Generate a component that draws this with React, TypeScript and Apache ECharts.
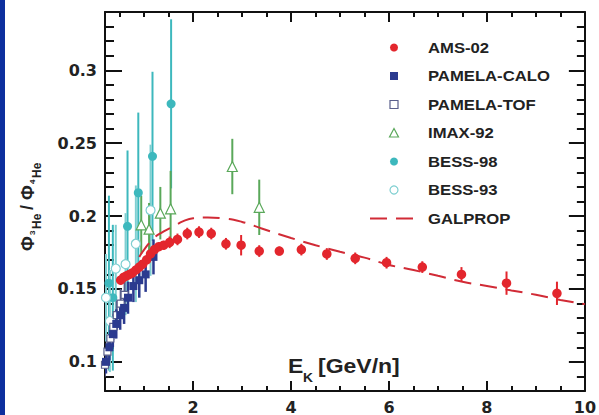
import React, { useEffect, useRef } from "react";
import * as echarts from "echarts";

// [E_K (GeV/n), ratio, error]
const amsData = [
  [0.52, 0.156, 0.003], [0.58, 0.158, 0.003], [0.64, 0.159, 0.003], [0.70, 0.160, 0.003],
  [0.76, 0.161, 0.003], [0.83, 0.163, 0.003], [0.90, 0.165, 0.003], [0.97, 0.167, 0.003],
  [1.05, 0.170, 0.003], [1.13, 0.174, 0.003], [1.21, 0.177, 0.003], [1.30, 0.179, 0.003],
  [1.40, 0.180, 0.003], [1.52, 0.182, 0.004], [1.68, 0.184, 0.004], [1.88, 0.188, 0.004],
  [2.12, 0.189, 0.004], [2.37, 0.188, 0.004], [2.67, 0.181, 0.004], [2.98, 0.180, 0.007],
  [3.35, 0.176, 0.004], [3.76, 0.176, 0.003], [4.21, 0.177, 0.004], [4.73, 0.174, 0.004],
  [5.31, 0.171, 0.004], [5.95, 0.168, 0.004], [6.68, 0.165, 0.004], [7.48, 0.160, 0.005],
  [8.40, 0.154, 0.008], [9.43, 0.147, 0.008],
];
const pamelaCaloData = [
  [0.22, 0.100, 0.008], [0.29, 0.110, 0.009], [0.36, 0.119, 0.009], [0.43, 0.126, 0.010],
  [0.51, 0.132, 0.010], [0.59, 0.137, 0.011], [0.67, 0.144, 0.011], [0.78, 0.152, 0.011],
  [0.90, 0.156, 0.012], [1.03, 0.160, 0.012], [1.19, 0.172, 0.012],
];
const pamelaTofData = [
  [0.20, 0.098, 0.008], [0.25, 0.107, 0.008], [0.31, 0.116, 0.009], [0.37, 0.124, 0.009],
  [0.44, 0.132, 0.010], [0.52, 0.140, 0.010], [0.60, 0.146, 0.011],
];
const imaxData = [
  [0.94, 0.194, 0.020], [1.10, 0.191, 0.018], [1.33, 0.202, 0.018], [1.54, 0.205, 0.026],
  [2.80, 0.234, 0.019], [3.35, 0.206, 0.019],
];
const bess98Data = [
  [0.28, 0.154, 0.060], [0.36, 0.144, 0.050], [0.66, 0.193, 0.052], [0.88, 0.216, 0.055],
  [1.17, 0.241, 0.058], [1.55, 0.277, 0.058],
];
const bess93Data = [
  [0.22, 0.144, 0.030], [0.30, 0.128, 0.035], [0.42, 0.164, 0.030], [0.62, 0.167, 0.035],
  [0.83, 0.181, 0.040], [1.13, 0.204, 0.045],
];
const galpropData = [
  [0.9, 0.172], [1.0, 0.177], [1.2, 0.185], [1.4, 0.1895], [1.6, 0.193], [1.8, 0.1965],
  [2.0, 0.1985], [2.3, 0.199], [2.6, 0.1985], [3.0, 0.196], [3.4, 0.1915], [4.0, 0.185],
  [4.5, 0.180], [5.0, 0.1755], [5.5, 0.1715], [6.0, 0.1665], [6.5, 0.163], [7.0, 0.159],
  [7.5, 0.155], [8.0, 0.152], [8.5, 0.149], [9.0, 0.146], [9.5, 0.1425], [10.0, 0.1395],
];

const xMajor = [2, 4, 6, 8, 10];
const xMinor = [0.5, 1, 1.5, 2.5, 3, 3.5, 4.5, 5, 5.5, 6.5, 7, 7.5, 8.5, 9, 9.5];
const yMajor = [0.1, 0.15, 0.2, 0.25, 0.3];
const yMinor = [0.09, 0.11, 0.12, 0.13, 0.14, 0.16, 0.17, 0.18, 0.19, 0.21, 0.22, 0.23, 0.24,
  0.26, 0.27, 0.28, 0.29, 0.31, 0.32, 0.33];

const legendNames = ["AMS-02", "PAMELA-CALO", "PAMELA-TOF", "IMAX-92", "BESS-98", "BESS-93", "GALPROP"];

const C = {
  ams: "#e3262d",
  calo: "#2b3a8f",
  tof: "#5a5f8c",
  imax: "#5aa85a",
  b98: "#3db8bd",
  b93: "#7fcfd1",
  gal: "#d12b36",
};

const FONT = "DejaVu Sans";
const HFONT = "Liberation Sans";
const X_MIN = 0.2, X_MAX = 10, Y_MIN = 0.08, Y_MAX = 0.34;

function errBars(data: number[][], color: string, width: number, z: number) {
  return {
    type: "custom",
    data,
    z,
    clip: true,
    encode: { x: 0, y: 1 },
    renderItem: (params: any, api: any) => {
      const x = api.value(0), y = api.value(1), e = api.value(2);
      const a = api.coord([x, y + e]);
      const b = api.coord([x, y - e]);
      return {
        type: "line",
        shape: { x1: a[0], y1: a[1], x2: b[0], y2: b[1] },
        style: { stroke: color, lineWidth: width },
      };
    },
  };
}

function points(data: number[][], symbol: string, size: number, fill: string, border: string, bw: number, z: number) {
  return {
    type: "scatter",
    data: data.map((d) => [d[0], d[1]]),
    symbol,
    symbolSize: size,
    z,
    itemStyle: { color: fill, borderColor: border, borderWidth: bw, opacity: 1 },
  };
}

function xAxisDef(pos: string, vals: number[], len: number, line: boolean, label: boolean) {
  return {
    type: "value", position: pos, min: X_MIN, max: X_MAX,
    axisLine: { show: line, onZero: false, lineStyle: { color: "#111", width: 2 } },
    axisTick: { show: true, inside: true, length: len, customValues: vals, lineStyle: { color: "#111", width: 2 } },
    axisLabel: label
      ? { show: true, customValues: vals, margin: 8, color: "#222", fontFamily: FONT, fontWeight: "bold", fontSize: 16 }
      : { show: false },
    splitLine: { show: false },
  };
}
function yAxisDef(pos: string, vals: number[], len: number, line: boolean, label: boolean) {
  return {
    type: "value", position: pos, min: Y_MIN, max: Y_MAX,
    axisLine: { show: line, onZero: false, lineStyle: { color: "#111", width: 2 } },
    axisTick: { show: true, inside: true, length: len, customValues: vals, lineStyle: { color: "#111", width: 2 } },
    axisLabel: label
      ? { show: true, customValues: vals, margin: 8, color: "#222", fontFamily: FONT, fontWeight: "bold", fontSize: 16 }
      : { show: false },
    splitLine: { show: false },
  };
}

function buildLegend() {
  const els: any[] = [];
  const ix = 394, tx = 428, y0 = 47.5, dy = 28.5;
  legendNames.forEach((name, i) => {
    const y = y0 + i * dy;
    els.push({
      type: "text", x: tx, y, scaleX: 1.15,
      style: { text: name, fill: "#222", font: `bold 14.5px "${HFONT}"`, verticalAlign: "middle", align: "left" },
    });
    let icon: any;
    if (i === 0) icon = { type: "circle", shape: { cx: ix, cy: y, r: 4 }, style: { fill: C.ams } };
    else if (i === 1) icon = { type: "rect", shape: { x: ix - 4, y: y - 4, width: 8, height: 8 }, style: { fill: C.calo } };
    else if (i === 2) icon = { type: "rect", shape: { x: ix - 4, y: y - 4, width: 8, height: 8 }, style: { fill: "#fff", stroke: C.tof, lineWidth: 1.2 } };
    else if (i === 3) icon = { type: "polygon", shape: { points: [[ix, y - 4.5], [ix + 4.5, y + 4], [ix - 4.5, y + 4]] }, style: { fill: "#fff", stroke: C.imax, lineWidth: 1.2 } };
    else if (i === 4) icon = { type: "circle", shape: { cx: ix, cy: y, r: 4 }, style: { fill: C.b98 } };
    else if (i === 5) icon = { type: "circle", shape: { cx: ix, cy: y, r: 4 }, style: { fill: "#fff", stroke: C.b93, lineWidth: 1.2 } };
    else icon = { type: "line", shape: { x1: ix - 24, y1: y, x2: ix + 24, y2: y }, style: { stroke: C.gal, lineWidth: 2, lineDash: [17, 9] } };
    els.push(icon);
  });
  return els;
}

function buildYTitle() {
  const big = `bold 18px "${HFONT}"`;
  const sub = `bold 12px "${HFONT}"`;
  const tiny = `bold 8px "${HFONT}"`;
  const t = (text: string, x: number, y: number, font: string) => ({
    type: "text", x, y, style: { text, font, fill: "#222", verticalAlign: "middle", align: "left" },
  });
  return {
    type: "group",
    x: 28,
    y: 251,
    rotation: Math.PI / 2,
    children: [
      t("Φ", 0, 0, big),
      t("3", 16, 4, tiny),
      t("He", 22, 9, sub),
      t("/", 41, -1, big),
      t("Φ", 51, 0, big),
      t("4", 67, 4, tiny),
      t("He", 73, 9, sub),
    ],
  };
}

export default function App() {
  const ref = useRef<HTMLDivElement>(null);
  useEffect(() => {
    if (!ref.current) return;
    const chart = echarts.init(ref.current, null, { renderer: "svg" });
    const option: any = {
      animation: false,
      backgroundColor: "#ffffff",
      grid: { left: 105, right: 12, top: 12, bottom: 22, containLabel: false },
      xAxis: [
        xAxisDef("bottom", xMajor, 10, true, true),
        xAxisDef("bottom", xMinor, 5, false, false),
        xAxisDef("top", xMajor, 10, true, false),
        xAxisDef("top", xMinor, 5, false, false),
      ],
      yAxis: [
        yAxisDef("left", yMajor, 17, true, true),
        yAxisDef("left", yMinor, 9, false, false),
        yAxisDef("right", yMajor, 16, true, false),
        yAxisDef("right", yMinor, 8, false, false),
      ],
      series: [
        errBars(bess98Data, C.b98, 2, 2),
        errBars(bess93Data, C.b93, 2, 2),
        errBars(pamelaTofData, C.tof, 2, 3),
        errBars(pamelaCaloData, C.calo, 2.5, 3),
        errBars(imaxData, C.imax, 2, 3),
        points(bess98Data, "circle", 9, C.b98, C.b98, 0, 4),
        points(bess93Data, "circle", 9, "#fff", C.b93, 1.2, 4),
        points(pamelaTofData, "rect", 7, "#fff", C.tof, 1.2, 4),
        points(pamelaCaloData, "rect", 8, C.calo, C.calo, 0, 4),
        points(imaxData, "triangle", 10, "#fff", C.imax, 1.2, 4),
        {
          type: "line",
          data: galpropData,
          smooth: true,
          showSymbol: false,
          z: 5,
          lineStyle: { color: C.gal, width: 2, type: [17, 9] },
        },
        errBars(amsData, C.ams, 2, 6),
        points(amsData, "circle", 9.5, C.ams, C.ams, 0, 7),
      ],
      graphic: [
        { type: "rect", shape: { x: 0, y: 0, width: 5, height: 415 }, style: { fill: "#0d2f9e" }, z: 100 },
        ...buildLegend(),
        buildYTitle(),
        { type: "text", x: 288, y: 376, scaleX: 1.15, style: { text: "E", font: `bold 20px "${HFONT}"`, fill: "#222", verticalAlign: "bottom" } },
        { type: "text", x: 303, y: 384, scaleX: 1.15, style: { text: "K", font: `bold 12px "${HFONT}"`, fill: "#222", verticalAlign: "bottom" } },
        { type: "text", x: 318, y: 376, scaleX: 1.15, style: { text: "[GeV/n]", font: `bold 20px "${HFONT}"`, fill: "#222", verticalAlign: "bottom" } },
      ],
    };
    chart.setOption(option);
    return () => chart.dispose();
  }, []);
  return (
    <div
      ref={ref}
      style={{ position: "fixed", left: 0, top: 0, width: 599, height: 415, background: "#fff" }}
    />
  );
}
